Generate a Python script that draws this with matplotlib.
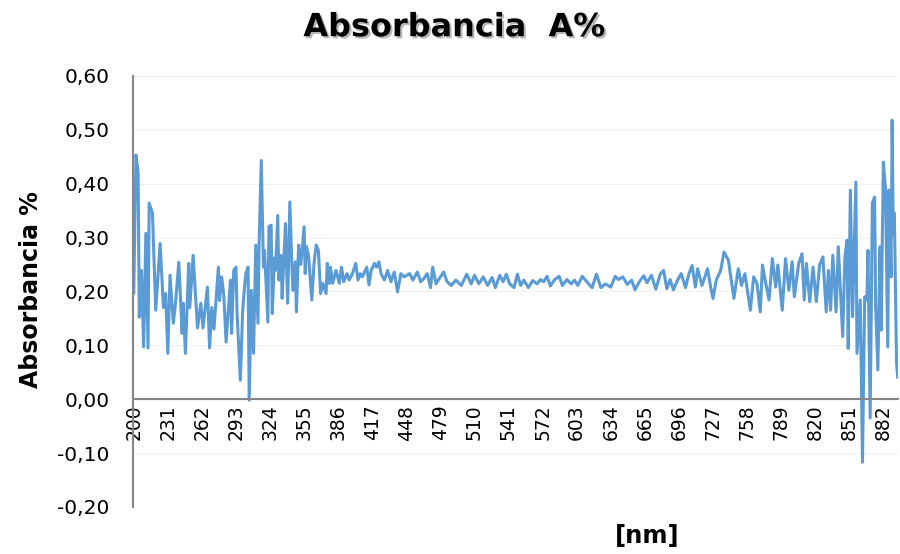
import matplotlib
matplotlib.use('Agg')
import matplotlib.pyplot as plt
import matplotlib.patheffects as pe
from matplotlib.ticker import FuncFormatter

# wavelength [nm] and absorbance
nm = [200, 202, 204, 205, 207, 209, 211, 213, 214, 217, 220, 224, 227, 229, 231,
      233, 236, 238, 241, 244, 245, 247, 250, 251, 254, 258, 261, 263, 267, 269,
      271, 273, 277, 278, 280, 282, 284, 288, 289, 291, 293, 294, 297, 299, 300,
      302, 304, 305, 307, 309, 311, 313, 314, 316, 318, 319, 322, 323, 325, 326,
      328, 329, 331, 332, 334, 335, 338, 340, 342, 344, 345, 347, 348, 350, 352,
      355, 356, 357, 359, 362, 364, 366, 368, 370, 372, 375, 376, 378, 379, 381,
      384, 387, 389, 391, 394, 396, 399, 402, 404, 406, 408, 412, 414, 416, 419,
      421, 423, 425, 428, 431, 434, 437, 440, 443, 446, 451, 454, 458, 461, 464,
      467, 470, 472, 475, 478, 482, 485, 489, 493, 498, 503, 507, 510, 514, 518,
      522, 526, 529, 533, 536, 539, 542, 546, 549, 552, 555, 559, 563, 567, 570,
      573, 576, 579, 583, 587, 590, 594, 598, 601, 604, 608, 613, 617, 621, 625,
      629, 634, 638, 641, 645, 649, 653, 656, 660, 664, 667, 671, 675, 679, 682,
      685, 688, 691, 695, 698, 702, 705, 708, 711, 713, 717, 722, 725, 727, 730,
      734, 737, 741, 746, 750, 753, 756, 761, 764, 767, 770, 772, 775, 778, 781,
      784, 786, 790, 793, 796, 799, 801, 805, 808, 810, 812, 815, 818, 821, 824,
      827, 830, 832, 834, 836, 839, 841, 845, 847, 849, 850, 852, 854, 857, 858,
      861, 863, 865, 867, 868, 870, 872, 874, 875, 877, 879, 880, 882, 884, 886,
      887, 889, 890, 891, 892, 894, 895]

absorb = [0.197, 0.453, 0.420, 0.152, 0.239, 0.097, 0.308, 0.095, 0.364, 0.345,
          0.165, 0.289, 0.170, 0.196, 0.085, 0.230, 0.141, 0.178, 0.254, 0.122,
          0.178, 0.085, 0.252, 0.170, 0.267, 0.132, 0.178, 0.132, 0.208, 0.095,
          0.170, 0.130, 0.245, 0.183, 0.227, 0.190, 0.106, 0.221, 0.122, 0.239,
          0.245, 0.159, 0.035, 0.159, 0.190, 0.233, 0.245, -0.002, 0.202, 0.085,
          0.286, 0.141, 0.283, 0.443, 0.245, 0.276, 0.143, 0.320, 0.323, 0.159,
          0.262, 0.239, 0.341, 0.221, 0.267, 0.187, 0.326, 0.178, 0.366, 0.239,
          0.202, 0.255, 0.162, 0.286, 0.250, 0.320, 0.233, 0.283, 0.267, 0.184,
          0.252, 0.286, 0.276, 0.196, 0.215, 0.196, 0.252, 0.215, 0.245, 0.215,
          0.239, 0.215, 0.245, 0.218, 0.233, 0.221, 0.233, 0.252, 0.221, 0.233,
          0.227, 0.245, 0.212, 0.239, 0.252, 0.245, 0.255, 0.233, 0.221, 0.239,
          0.218, 0.236, 0.199, 0.233, 0.227, 0.233, 0.221, 0.236, 0.218, 0.224,
          0.233, 0.207, 0.245, 0.214, 0.224, 0.236, 0.218, 0.211, 0.221, 0.211,
          0.232, 0.214, 0.230, 0.214, 0.227, 0.211, 0.226, 0.207, 0.230, 0.218,
          0.232, 0.214, 0.207, 0.232, 0.211, 0.221, 0.207, 0.220, 0.214, 0.222,
          0.218, 0.228, 0.210, 0.222, 0.228, 0.211, 0.222, 0.214, 0.221, 0.211,
          0.228, 0.216, 0.207, 0.232, 0.207, 0.214, 0.208, 0.228, 0.222, 0.227,
          0.213, 0.221, 0.203, 0.218, 0.229, 0.216, 0.230, 0.204, 0.232, 0.239,
          0.205, 0.222, 0.203, 0.222, 0.233, 0.207, 0.232, 0.248, 0.208, 0.242,
          0.211, 0.242, 0.207, 0.187, 0.221, 0.239, 0.273, 0.258, 0.187, 0.242,
          0.211, 0.233, 0.165, 0.227, 0.215, 0.162, 0.249, 0.215, 0.184, 0.261,
          0.208, 0.249, 0.165, 0.261, 0.202, 0.255, 0.190, 0.252, 0.270, 0.184,
          0.252, 0.181, 0.245, 0.181, 0.249, 0.264, 0.162, 0.239, 0.165, 0.267,
          0.162, 0.283, 0.116, 0.264, 0.295, 0.094, 0.388, 0.153, 0.403, 0.085,
          0.184, -0.117, 0.190, 0.184, 0.276, -0.035, 0.364, 0.375, 0.171, 0.054,
          0.283, 0.128, 0.440, 0.388, 0.097, 0.388, 0.227, 0.518, 0.307, 0.345,
          0.066, 0.041]

x_tick_labels = [200, 231, 262, 293, 324, 355, 386, 417, 448, 479, 510, 541,
                 572, 603, 634, 665, 696, 727, 758, 789, 820, 851, 882]
y_ticks = [-0.20, -0.10, 0.00, 0.10, 0.20, 0.30, 0.40, 0.50, 0.60]

fig = plt.figure(figsize=(9, 5.54), dpi=100)
ax = fig.add_axes([0.148, 0.085, 0.850, 0.778])

# move the x axis onto y = 0 first, this resets the ticks
for s in ['top', 'right']:
    ax.spines[s].set_visible(False)
ax.spines['bottom'].set_position(('data', 0))
ax.spines['left'].set_color('#868686')
ax.spines['bottom'].set_color('#868686')
ax.spines['left'].set_linewidth(1.5)
ax.spines['bottom'].set_linewidth(1.5)

ax.plot(nm, absorb, color='#5B9BD5', lw=2.2, solid_joinstyle='round')

ax.set_xlim(199.5, 895.5)
ax.set_ylim(-0.20, 0.60)
ax.set_yticks(y_ticks)
ax.yaxis.set_major_formatter(FuncFormatter(lambda v, p: ('%.2f' % v).replace('.', ',')))
ax.set_xticks(x_tick_labels)
ax.set_xticklabels([str(v) for v in x_tick_labels])

ax.grid(axis='y', color='#f0f0f0', lw=0.8)
ax.set_axisbelow(True)

ax.tick_params(axis='y', length=0, pad=17, labelsize=14.5)
ax.tick_params(axis='x', length=0, pad=4, labelsize=13.5, labelrotation=90)

fig.text(0.505, 0.95, 'Absorbancia  A%', ha='center', va='center',
         fontsize=23, fontweight='bold',
         path_effects=[pe.SimplePatchShadow(offset=(1.5, -1.5), shadow_rgbFace='#888888', alpha=0.6),
                       pe.Normal()])
fig.text(0.034, 0.477, 'Absorbancia %', rotation=90, ha='center', va='center',
         fontsize=17, fontweight='bold')
fig.text(0.719, 0.032, '[nm]', ha='center', va='center', fontsize=17.5, fontweight='bold')

fig.savefig('out.png', dpi=100)
